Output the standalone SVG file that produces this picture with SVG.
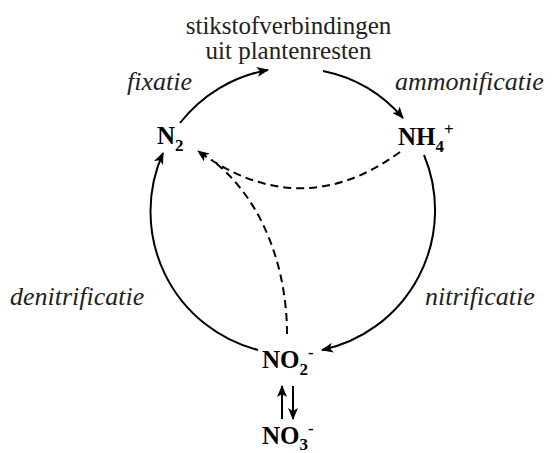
<svg xmlns="http://www.w3.org/2000/svg" width="554" height="453" viewBox="0 0 554 453">
<style>
.t{font-size:25px;fill:#222}
.i{font-size:26px;font-style:italic;fill:#222}
.f{font-size:25px;font-weight:bold;fill:#000}
.c{fill:none;stroke:#000;stroke-width:2}
.d{fill:none;stroke:#000;stroke-width:2;stroke-dasharray:8 5}
</style>
<defs>
<marker id="ah" viewBox="0 0 12 10" refX="11" refY="5" markerWidth="12" markerHeight="10" markerUnits="userSpaceOnUse" orient="auto">
<path d="M0,0 L12,5 L0,10 L3,5 Z" fill="#000"/>
</marker>
</defs>
<g id="connectors">
<path class="c" d="M180,123 A143,143 0 0 1 268,70" marker-end="url(#ah)"/>
<path class="c" d="M323,71 A143,143 0 0 1 403,118" marker-end="url(#ah)"/>
<path class="c" d="M424,155 A143,143 0 0 1 322,350" marker-end="url(#ah)"/>
<path class="c" d="M258,350 A143,143 0 0 1 163,153" marker-end="url(#ah)"/>
<path class="d" d="M400,152 Q300,225 198,151" marker-end="url(#ah)"/>
<path class="d" d="M287,334 C287,270 264,200 212,160"/>
<path class="c" d="M282,419 L282,386" marker-end="url(#ah)"/>
<path class="c" d="M293,386 L293,419" marker-end="url(#ah)"/>
</g>
<g font-family="Liberation Serif, Times New Roman, serif">
<g id="plantenresten">
<text class="t" x="288.5" y="34" text-anchor="middle">stikstofverbindingen</text>
<text class="t" x="288.5" y="59" text-anchor="middle">uit plantenresten</text>
</g>
<g id="N2"><text class="f" x="157" y="144">N<tspan font-size="17" dy="7">2</tspan></text></g>
<g id="NH4"><text class="f" x="398" y="145">NH<tspan font-size="17" dy="7">4</tspan><tspan font-size="17" dy="-17">+</tspan></text></g>
<g id="NO2"><text class="f" x="262" y="368">NO<tspan font-size="17" dy="7">2</tspan><tspan font-size="17" dy="-17">-</tspan></text></g>
<g id="NO3"><text class="f" x="262" y="444">NO<tspan font-size="17" dy="6">3</tspan><tspan font-size="17" dy="-16">-</tspan></text></g>
<g id="labels">
<text class="i" x="192" y="90" text-anchor="end">fixatie</text>
<text class="i" x="395" y="90">ammonificatie</text>
<text class="i" x="10" y="305">denitrificatie</text>
<text class="i" x="425" y="305">nitrificatie</text>
</g>
</g>
</svg>
